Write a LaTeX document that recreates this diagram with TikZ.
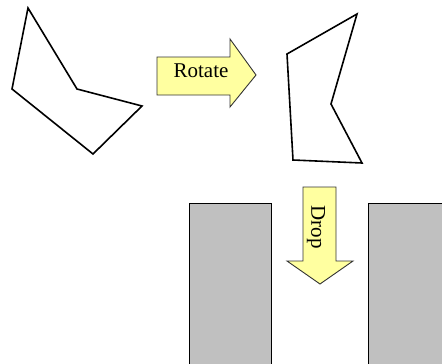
\documentclass[tikz,border=0pt]{standalone}
\usepackage{fontspec}
\setmainfont{Liberation Serif}
\definecolor{arrowfill}{RGB}{255,255,160}
\definecolor{wallgray}{RGB}{192,192,192}
\tikzset{
  poly/.style={draw=black, line width=1.6pt, line join=miter},
  bigarrow/.style={draw=black!80, fill=arrowfill, line width=0.9pt, line join=miter},
  wall/.style={fill=wallgray, draw=black, line width=1pt},
  lbl/.style={font=\fontsize{21}{22}\selectfont, inner sep=0pt}
}
\begin{document}
\begin{tikzpicture}[x=1pt,y=-1pt]
\useasboundingbox (0,0) rectangle (442,364);
\clip (0,0) rectangle (442,364);
% original shape
\draw[poly] (28,8) -- (77,89) -- (142,106) -- (93,154) -- (12,89) -- cycle;
% rotated shape
\draw[poly] (357,14) -- (331,104) -- (362,163) -- (293,160) -- (287,54) -- cycle;
% rotate arrow
\draw[bigarrow] (157,57) -- (230,57) -- (230,39) -- (256,75) -- (230,107) -- (230,95) -- (157,95) -- cycle;
\node[lbl] (rotate) at (201,71) {Rotate};
% walls
\draw[wall] (189,380) -- (189,203) -- (271,203) -- (271,380);
\draw[wall] (368,380) -- (368,203) -- (460,203) -- (460,380);
% drop arrow
\draw[bigarrow] (303,187) -- (336,187) -- (336,261) -- (353,261) -- (320,284) -- (287,261) -- (303,261) -- cycle;
\node[lbl, rotate=-90] (drop) at (316,227) {Drop};
\end{tikzpicture}
\end{document}
